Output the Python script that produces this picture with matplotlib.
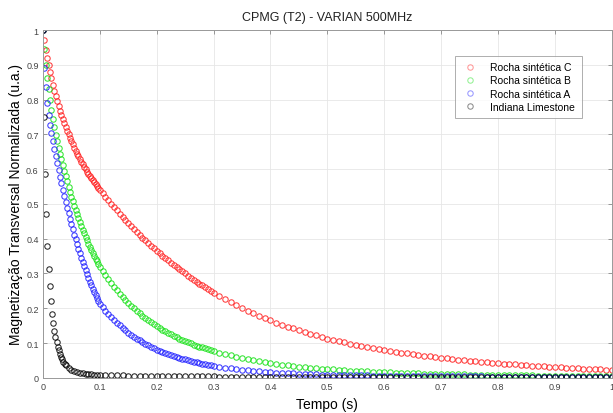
import numpy as np
import matplotlib
matplotlib.use("Agg")
import matplotlib.pyplot as plt

plt.rcParams['font.family'] = ['Liberation Sans', 'DejaVu Sans']

# sample times (s)
t_early = np.arange(41) * 0.0025          # 0 .. 0.1
t_mid = 0.1 + np.arange(1, 41) * 0.005    # 0.105 .. 0.3
t_tail = 0.3 + np.arange(1, 71) * 0.01    # 0.31 .. 1.0
t_rgb = np.concatenate([t_early, t_mid, t_tail])

t_k = np.concatenate([np.arange(21) * 0.002,            # 0 .. 0.04
                      0.04 + np.arange(1, 13) * 0.005,  # 0.045 .. 0.1
                      0.1 + np.arange(1, 91) * 0.01])   # 0.11 .. 1.0

rocha_c = [
    1.000, 0.970, 0.944, 0.921, 0.900, 0.880, 0.861, 0.843, 0.826, 0.810,
    0.795, 0.781, 0.768, 0.756, 0.744, 0.732, 0.721, 0.710, 0.700, 0.690,
    0.680, 0.671, 0.662, 0.653, 0.645, 0.637, 0.629, 0.621, 0.614, 0.607,
    0.600, 0.593, 0.586, 0.580, 0.574, 0.568, 0.562, 0.556, 0.551, 0.546,
    0.541,
    0.5305, 0.5203, 0.5102, 0.5003, 0.4907, 0.4812, 0.4719, 0.4627, 0.4538, 0.4450,
    0.4363, 0.4277, 0.4193, 0.4111, 0.4030, 0.3951, 0.3874, 0.3798, 0.3723, 0.3650,
    0.3579, 0.3510, 0.3442, 0.3375, 0.3309, 0.3245, 0.3182, 0.3120, 0.3060, 0.3000,
    0.2940, 0.2881, 0.2823, 0.2766, 0.2711, 0.2657, 0.2603, 0.2551, 0.2500, 0.2450,
    0.2355, 0.2264, 0.2176, 0.2091, 0.2010, 0.1932, 0.1857, 0.1785, 0.1716, 0.1650,
    0.1589, 0.1529, 0.1472, 0.1418, 0.1365, 0.1314, 0.1265, 0.1218, 0.1173, 0.1130,
    0.1092, 0.1054, 0.1019, 0.0984, 0.0951, 0.0918, 0.0887, 0.0857, 0.0828, 0.0800,
    0.0775, 0.0750, 0.0726, 0.0703, 0.0681, 0.0659, 0.0638, 0.0618, 0.0599, 0.0580,
    0.0562, 0.0544, 0.0526, 0.0510, 0.0493, 0.0478, 0.0462, 0.0448, 0.0433, 0.0420,
    0.0407, 0.0395, 0.0383, 0.0372, 0.0361, 0.0350, 0.0339, 0.0329, 0.0319, 0.0310,
    0.0301, 0.0292, 0.0283, 0.0275, 0.0267, 0.0259, 0.0251, 0.0244, 0.0237, 0.0230,
]

rocha_b = [
    1.000, 0.945, 0.900, 0.863, 0.830, 0.799, 0.770, 0.744, 0.720, 0.699,
    0.680, 0.662, 0.645, 0.628, 0.611, 0.595, 0.580, 0.565, 0.549, 0.534,
    0.520, 0.507, 0.495, 0.482, 0.470, 0.459, 0.447, 0.436, 0.425, 0.415,
    0.405, 0.395, 0.385, 0.376, 0.367, 0.358, 0.350, 0.342, 0.335, 0.327,
    0.320,
    0.3075, 0.2955, 0.2840, 0.2729, 0.2623, 0.2520, 0.2422, 0.2328, 0.2237, 0.2150,
    0.2071, 0.1995, 0.1922, 0.1851, 0.1783, 0.1718, 0.1655, 0.1594, 0.1536, 0.1480,
    0.1430, 0.1382, 0.1335, 0.1290, 0.1246, 0.1204, 0.1163, 0.1124, 0.1086, 0.1050,
    0.1018, 0.0987, 0.0957, 0.0928, 0.0899, 0.0872, 0.0845, 0.0819, 0.0794, 0.0770,
    0.0725, 0.0682, 0.0642, 0.0604, 0.0568, 0.0535, 0.0503, 0.0474, 0.0446, 0.0420,
    0.0399, 0.0379, 0.0359, 0.0341, 0.0324, 0.0308, 0.0292, 0.0277, 0.0263, 0.0250,
    0.0239, 0.0228, 0.0218, 0.0209, 0.0200, 0.0191, 0.0183, 0.0175, 0.0167, 0.0160,
    0.0154, 0.0148, 0.0143, 0.0138, 0.0133, 0.0128, 0.0123, 0.0119, 0.0114, 0.0110,
    0.0107, 0.0103, 0.0100, 0.0097, 0.0094, 0.0091, 0.0088, 0.0085, 0.0083, 0.0080,
    0.0078, 0.0076, 0.0074, 0.0072, 0.0069, 0.0067, 0.0066, 0.0064, 0.0062, 0.0060,
    0.0059, 0.0058, 0.0057, 0.0056, 0.0055, 0.0054, 0.0053, 0.0052, 0.0051, 0.0050,
]

rocha_a = [
    1.000, 0.890, 0.835, 0.790, 0.755, 0.728, 0.703, 0.680, 0.658, 0.637,
    0.617, 0.597, 0.578, 0.559, 0.541, 0.523, 0.506, 0.489, 0.473, 0.457,
    0.442, 0.427, 0.412, 0.398, 0.384, 0.371, 0.358, 0.345, 0.333, 0.321,
    0.309, 0.298, 0.287, 0.276, 0.266, 0.256, 0.247, 0.238, 0.229, 0.221,
    0.213,
    0.2027, 0.1930, 0.1837, 0.1748, 0.1664, 0.1584, 0.1507, 0.1435, 0.1366, 0.1300,
    0.1240, 0.1183, 0.1128, 0.1076, 0.1026, 0.0979, 0.0934, 0.0891, 0.0849, 0.0810,
    0.0776, 0.0744, 0.0713, 0.0684, 0.0655, 0.0628, 0.0602, 0.0577, 0.0553, 0.0530,
    0.0507, 0.0485, 0.0464, 0.0444, 0.0425, 0.0406, 0.0389, 0.0372, 0.0356, 0.0340,
    0.0315, 0.0292, 0.0271, 0.0251, 0.0233, 0.0216, 0.0200, 0.0186, 0.0172, 0.0160,
    0.0151, 0.0143, 0.0135, 0.0127, 0.0120, 0.0113, 0.0107, 0.0101, 0.0095, 0.0090,
    0.0086, 0.0083, 0.0080, 0.0077, 0.0073, 0.0071, 0.0068, 0.0065, 0.0063, 0.0060,
    0.0058, 0.0057, 0.0055, 0.0054, 0.0052, 0.0051, 0.0049, 0.0048, 0.0046, 0.0045,
    0.0044, 0.0043, 0.0042, 0.0041, 0.0040, 0.0039, 0.0038, 0.0037, 0.0036, 0.0035,
    0.0035, 0.0034, 0.0034, 0.0033, 0.0033, 0.0032, 0.0032, 0.0031, 0.0031, 0.0030,
    0.0030, 0.0029, 0.0029, 0.0028, 0.0028, 0.0027, 0.0027, 0.0026, 0.0026, 0.0025,
]

indiana = [
    1.000, 0.750, 0.586, 0.470, 0.380, 0.313, 0.264, 0.222, 0.184, 0.158,
    0.136, 0.118, 0.103, 0.090, 0.079, 0.069, 0.060, 0.053, 0.046, 0.041,
    0.036,
    0.028, 0.023, 0.019, 0.016, 0.014, 0.013, 0.012, 0.011, 0.010, 0.0095,
    0.009, 0.0085,
    0.0080, 0.0076, 0.0072, 0.0068, 0.0065, 0.0062, 0.0059, 0.0056, 0.0054, 0.0052,
    0.0050, 0.0048, 0.0046, 0.0045, 0.0043, 0.0042, 0.0041, 0.0040, 0.0039, 0.0038,
    0.0037, 0.0036, 0.0036, 0.0035, 0.0034, 0.0034, 0.0033, 0.0033, 0.0032, 0.0032,
    0.0031, 0.0031, 0.0030, 0.0030, 0.0030, 0.0029, 0.0029, 0.0029, 0.0028, 0.0028,
    0.0028, 0.0027, 0.0027, 0.0027, 0.0026, 0.0026, 0.0026, 0.0026, 0.0025, 0.0025,
    0.0025, 0.0025, 0.0025, 0.0025, 0.0024, 0.0024, 0.0024, 0.0024, 0.0024, 0.0024,
    0.0024, 0.0024, 0.0024, 0.0023, 0.0023, 0.0023, 0.0023, 0.0023, 0.0023, 0.0023,
    0.0023, 0.0023, 0.0022, 0.0022, 0.0022, 0.0022, 0.0022, 0.0022, 0.0022, 0.0022,
    0.0022, 0.0022, 0.0021, 0.0021, 0.0021, 0.0021, 0.0021, 0.0021, 0.0021, 0.0021,
]

labels = ['Rocha sintética C', 'Rocha sintética B', 'Rocha sintética A', 'Indiana Limestone']

fig = plt.figure(figsize=(6.13, 4.14), dpi=100)
ax = fig.add_axes([0.070, 0.085, 0.928, 0.840])

series = [(t_rgb, rocha_c, '#ff1a1a'), (t_rgb, rocha_b, '#10e010'),
          (t_rgb, rocha_a, '#1a1aff'), (t_k, indiana, '#000000')]
for (tt, vv, c), lab in zip(series, labels):
    ax.plot(tt, vv, 'o', mfc='none', mec=c, ms=3.9, mew=0.75, alpha=0.85, label=lab)

ax.set_xlim(0, 1)
ax.set_ylim(0, 1)
ax.set_xticks(np.arange(0, 1.01, 0.1))
ax.set_yticks(np.arange(0, 1.01, 0.1))
ax.set_xticklabels(['0', '0.1', '0.2', '0.3', '0.4', '0.5', '0.6', '0.7', '0.8', '0.9', '1'])
ax.set_yticklabels(['0', '0.1', '0.2', '0.3', '0.4', '0.5', '0.6', '0.7', '0.8', '0.9', '1'])
ax.tick_params(direction='in', top=True, right=True, length=3, width=0.6,
               labelsize=6.5, labelcolor='#444444', color='#888888', pad=3)
ax.grid(True, color='#e6e6e6', lw=0.6)
ax.set_axisbelow(True)
for sp in ax.spines.values():
    sp.set_color('#999999')
    sp.set_linewidth(0.7)

ax.set_title('CPMG (T2) - VARIAN 500MHz', fontsize=9, color='#222222', pad=7)
ax.set_xlabel('Tempo (s)', fontsize=10, labelpad=4)
ax.set_ylabel('Magnetização Transversal Normalizada (u.a.)', fontsize=10, labelpad=2)

leg = ax.legend(loc='upper right', bbox_to_anchor=(0.956, 0.94), fontsize=7.5,
                frameon=True, fancybox=False, edgecolor='#999999',
                handletextpad=1.2, borderpad=0.6, labelspacing=0.3, handlelength=1.6)
leg.get_frame().set_linewidth(0.7)
for h in leg.legend_handles:
    h.set_alpha(0.45)

fig.savefig('out.png', dpi=100)
